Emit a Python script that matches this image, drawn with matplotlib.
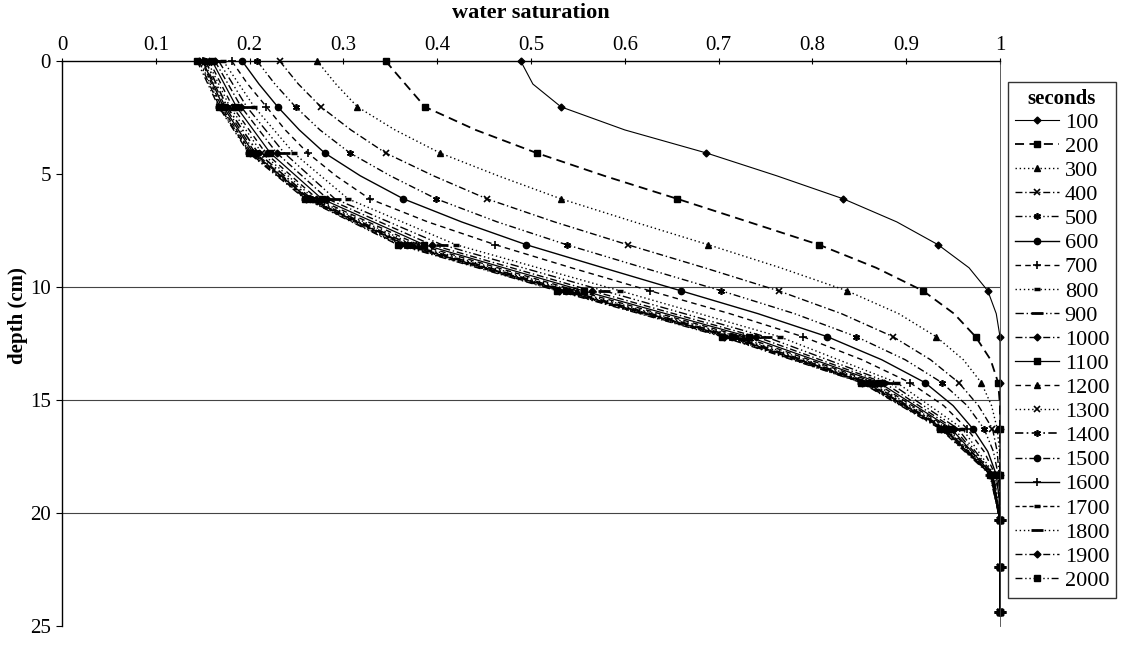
import matplotlib
matplotlib.use("Agg")
import matplotlib.pyplot as plt

plt.rcParams['font.family'] = ['Liberation Serif', 'DejaVu Serif']

# depths (cm): fine grid for the well separated early curves, coarse grid for the rest
depth_fine = [0, 1.02, 2.03, 3.05, 4.07, 5.08, 6.10, 7.12, 8.13, 9.15, 10.17, 11.18, 12.20,
              13.22, 14.23, 15.25, 16.27, 17.28, 18.30, 19.32, 20.33, 21.35, 22.37, 23.38, 24.40]
depth_coarse = [0, 2.03, 4.07, 6.10, 8.13, 10.17, 12.20, 14.23, 16.27, 18.30, 20.33, 22.37, 24.40]

seconds = [100, 200, 300, 400, 500, 600, 700, 800, 900, 1000,
           1100, 1200, 1300, 1400, 1500, 1600, 1700, 1800, 1900, 2000]

x_ticks = [0, 0.1, 0.2, 0.3, 0.4, 0.5, 0.6, 0.7, 0.8, 0.9, 1]
x_tick_labels = ['0', '0.1', '0.2', '0.3', '0.4', '0.5', '0.6', '0.7', '0.8', '0.9', '1']
y_ticks = [0, 5, 10, 15, 20, 25]

# fine-grid series (values read at every ~1 cm)
sat_100 = [0.489, 0.502, 0.532, 0.600, 0.687, 0.762, 0.833, 0.890, 0.934, 0.967, 0.987, 0.996, 1.000,
           1.000, 1.000, 1.000, 1.000, 1.000, 1.000, 1.000, 1.000, 1.000, 1.000, 1.000, 1.000]
sat_200 = [0.345, 0.366, 0.387, 0.441, 0.506, 0.578, 0.656, 0.732, 0.807, 0.868, 0.918, 0.951, 0.974,
           0.990, 0.998, 1.000, 1.000, 1.000, 1.000, 1.000, 1.000, 1.000, 1.000, 1.000, 1.000]
sat_300 = [0.272, 0.292, 0.315, 0.355, 0.403, 0.465, 0.532, 0.610, 0.689, 0.766, 0.837, 0.892, 0.932,
           0.961, 0.980, 0.991, 0.997, 0.9995, 1.000, 1.000, 1.000, 1.000, 1.000, 1.000, 1.000]
sat_400 = [0.232, 0.252, 0.276, 0.308, 0.345, 0.396, 0.453, 0.525, 0.603, 0.685, 0.764, 0.831, 0.886,
           0.926, 0.956, 0.977, 0.992, 0.997, 0.999, 1.000, 1.000, 1.000, 1.000, 1.000, 1.000]
sat_500 = [0.208, 0.227, 0.249, 0.275, 0.307, 0.350, 0.399, 0.464, 0.538, 0.620, 0.703, 0.781, 0.847,
           0.899, 0.938, 0.965, 0.983, 0.993, 0.998, 1.000, 1.000, 1.000, 1.000, 1.000, 1.000]
sat_600 = [0.192, 0.210, 0.230, 0.253, 0.280, 0.318, 0.364, 0.426, 0.495, 0.577, 0.660, 0.742, 0.816,
           0.874, 0.920, 0.950, 0.971, 0.987, 0.996, 0.999, 1.000, 1.000, 1.000, 1.000, 1.000]
sat_700 = [0.181, 0.198, 0.218, 0.238, 0.262, 0.292, 0.328, 0.390, 0.462, 0.543, 0.627, 0.712, 0.790,
           0.853, 0.904, 0.940, 0.965, 0.983, 0.995, 0.999, 1.000, 1.000, 1.000, 1.000, 1.000]

# coarse-grid series (values read at every ~2 cm, where the markers are)
sat_800 = [0.172, 0.205, 0.247, 0.305, 0.420, 0.595, 0.765, 0.890, 0.960, 0.994, 1.000, 1.000, 1.000]
sat_900 = [0.167, 0.197, 0.237, 0.291, 0.405, 0.578, 0.750, 0.882, 0.955, 0.993, 1.000, 1.000, 1.000]
sat_1000 = [0.163, 0.191, 0.229, 0.283, 0.394, 0.565, 0.740, 0.876, 0.951, 0.993, 1.000, 1.000, 1.000]
sat_1100 = [0.160, 0.186, 0.222, 0.277, 0.386, 0.556, 0.732, 0.871, 0.948, 0.992, 1.000, 1.000, 1.000]
sat_1200 = [0.157, 0.182, 0.217, 0.272, 0.380, 0.549, 0.726, 0.867, 0.946, 0.992, 1.000, 1.000, 1.000]
sat_1300 = [0.155, 0.179, 0.213, 0.269, 0.375, 0.544, 0.721, 0.864, 0.944, 0.991, 1.000, 1.000, 1.000]
sat_1400 = [0.153, 0.176, 0.209, 0.266, 0.371, 0.540, 0.717, 0.861, 0.942, 0.991, 1.000, 1.000, 1.000]
sat_1500 = [0.151, 0.174, 0.206, 0.264, 0.368, 0.537, 0.714, 0.859, 0.941, 0.991, 1.000, 1.000, 1.000]
sat_1600 = [0.150, 0.172, 0.204, 0.263, 0.366, 0.535, 0.712, 0.857, 0.940, 0.990, 1.000, 1.000, 1.000]
sat_1700 = [0.149, 0.170, 0.202, 0.262, 0.364, 0.533, 0.710, 0.855, 0.939, 0.990, 1.000, 1.000, 1.000]
sat_1800 = [0.147, 0.169, 0.201, 0.261, 0.362, 0.531, 0.708, 0.854, 0.938, 0.990, 1.000, 1.000, 1.000]
sat_1900 = [0.146, 0.168, 0.200, 0.260, 0.360, 0.530, 0.706, 0.853, 0.937, 0.990, 1.000, 1.000, 1.000]
sat_2000 = [0.144, 0.167, 0.199, 0.259, 0.358, 0.528, 0.704, 0.852, 0.936, 0.989, 1.000, 1.000, 1.000]

series = [sat_100, sat_200, sat_300, sat_400, sat_500, sat_600, sat_700, sat_800, sat_900, sat_1000,
          sat_1100, sat_1200, sat_1300, sat_1400, sat_1500, sat_1600, sat_1700, sat_1800, sat_1900, sat_2000]

# Excel-like black/white marker cycle
markers = [
    dict(marker='D', ms=3.5),
    dict(marker='s', ms=4.5),
    dict(marker='^', ms=4),
    dict(marker='x', ms=4.5, mew=1.2),
    dict(marker=(6, 2, 0), ms=5, mew=1.2),
    dict(marker='o', ms=4.5),
    dict(marker='+', ms=6, mew=1.2),
    dict(marker='_', ms=5, mew=2.5),
    dict(marker='_', ms=9, mew=2),
]
styles = [
    ('-', 0.8), ((0, (5, 3)), 1.3), ((0, (1, 2)), 1.0), ((0, (5, 2, 1, 2)), 1.0),
    ((0, (5, 2, 1, 2, 1, 2)), 1.0), ('-', 1.0), ((0, (4, 3)), 1.0), ((0, (1, 2)), 1.0),
    ((0, (6, 2, 1, 2, 1, 2)), 1.0), ((0, (5, 2, 1, 2)), 1.0), ('-', 0.9), ((0, (4, 3)), 1.0),
    ((0, (1, 2)), 1.0), ((0, (5, 2, 1, 2)), 1.2), ((0, (5, 2, 1, 2)), 1.0), ('-', 1.0),
    ((0, (3, 2)), 1.0), ((0, (1, 2)), 1.0), ((0, (5, 2, 1, 2)), 1.0), ((0, (5, 2, 1, 2, 1, 2)), 1.0),
]

fig = plt.figure(figsize=(11.35, 6.46), dpi=100)
ax = fig.add_axes([62 / 1135, 1 - 626 / 646, (1000 - 62) / 1135, (626 - 61) / 646])

handles = []
for i, (vals, sec) in enumerate(zip(series, seconds)):
    ls, lw = styles[i]
    mk = markers[i % 9]
    if len(vals) == len(depth_fine):
        dep, every = depth_fine, 2
    else:
        dep, every = depth_coarse, 1
    h, = ax.plot(vals, dep, color='black', linestyle=ls, linewidth=lw,
                 markerfacecolor='black', markeredgecolor='black', label=str(sec),
                 markevery=every, clip_on=False, **mk)
    handles.append(h)

ax.set_xlim(0, 1)
ax.set_ylim(25, 0)
ax.set_xticks(x_ticks)
ax.set_xticklabels(x_tick_labels)
ax.set_yticks(y_ticks)
ax.xaxis.tick_top()
ax.xaxis.set_label_position('top')
ax.tick_params(axis='x', direction='inout', length=5, width=0.8, labelsize=15, pad=1.5)
ax.tick_params(axis='y', direction='out', length=4, width=0.8, labelsize=15, pad=4)

ax.spines['bottom'].set_visible(False)
ax.spines['right'].set_linewidth(0.6)
ax.spines['right'].set_color('#444444')
ax.spines['top'].set_linewidth(1.0)
ax.spines['left'].set_linewidth(1.0)

ax.yaxis.grid(True, color='#444444', linewidth=0.8)
for tick, val in zip(ax.yaxis.get_major_ticks(), y_ticks):
    if val not in (10, 15, 20):
        tick.gridline.set_visible(False)

ax.set_xlabel('water saturation', fontsize=16, fontweight='bold', labelpad=13)
ax.set_ylabel('depth (cm)', fontsize=15, fontweight='bold')
ax.yaxis.set_label_coords(-0.036, 0.55)

leg = fig.legend(handles=handles, title='seconds', loc='upper left',
                 bbox_to_anchor=(1008 / 1135, 1 - 82 / 646), frameon=True,
                 fancybox=False, edgecolor='black', fontsize=16, handlelength=2.0,
                 labelspacing=0.16, handletextpad=0.25, borderpad=0.3, borderaxespad=0)
leg.get_title().set_fontweight('bold')
leg.get_title().set_fontsize(15)
leg.get_frame().set_linewidth(1.0)

fig.savefig('out.png', dpi=100, facecolor='white')
